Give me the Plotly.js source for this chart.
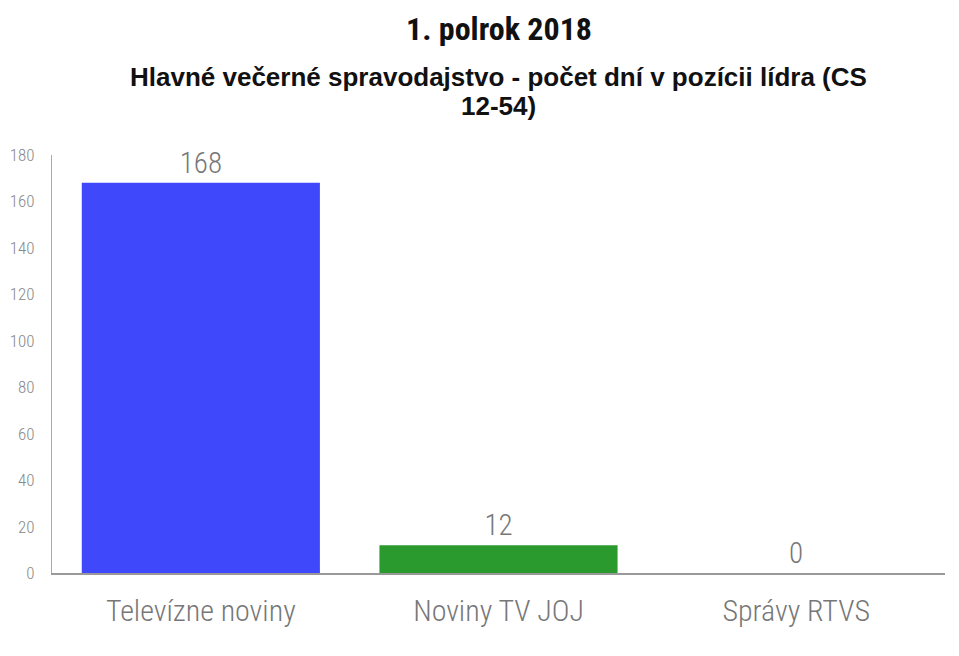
<!DOCTYPE html>
<html><head><meta charset="utf-8">
<script src="https://cdn.plot.ly/plotly-3.0.1.min.js"></script>
<style>body{margin:0;background:#fff}#c{width:959px;height:656px}</style>
</head><body><div id="c"></div>
<script>
const categories = ["Televízne noviny", "Noviny TV JOJ", "Správy RTVS"];
const values = [168, 12, 0];
const barColors = ["#4048fc", "#2a9a2e", "#888888"];
const yTicks = [0, 20, 40, 60, 80, 100, 120, 140, 160, 180];
const titleText = "1. polrok 2018";
const subtitleLines = ["Hlavné večerné spravodajstvo - počet dní v pozícii lídra (CS", "12-54)"];
const cond = "'Roboto Condensed', 'DejaVu Sans Condensed', sans-serif";
const arial = "'Liberation Sans', Arial, sans-serif";

Plotly.newPlot("c", [{
  type: "bar", x: categories, y: values,
  marker: {color: barColors},
  text: values.map(String), textposition: "outside", cliponaxis: false,
  textfont: {family: cond, size: 29, weight: 300, color: "#777777"},
  hoverinfo: "none"
}], {
  width: 959, height: 656,
  margin: {l: 52, r: 14, t: 155, b: 83},
  paper_bgcolor: "#fff", plot_bgcolor: "#fff",
  bargap: 0.2, showlegend: false,
  xaxis: {showline: true, linecolor: "#999", linewidth: 2, ticks: "", showgrid: false,
    tickfont: {family: cond, size: 30, weight: 300, color: "#777777"}, ticklabelstandoff: 10},
  yaxis: {range: [0, 180], tickvals: yTicks, showline: true, linecolor: "#aaa", linewidth: 1,
    showgrid: false, zeroline: false, ticks: "",
    tickfont: {family: cond, size: 17, weight: 300, color: "#888888"}, ticklabelstandoff: 13},
  annotations: [
    {xref: "paper", yref: "paper", x: 0.5, y: 1, yshift: 126, yanchor: "middle", showarrow: false,
      text: titleText, font: {family: cond, size: 32, weight: 700, color: "#111"}},
    {xref: "paper", yref: "paper", x: 0.5, y: 1, yshift: 78, yanchor: "middle", showarrow: false,
      text: "<b>" + subtitleLines[0] + "</b>", font: {family: arial, size: 26, color: "#111"}},
    {xref: "paper", yref: "paper", x: 0.5, y: 1, yshift: 49, yanchor: "middle", showarrow: false,
      text: "<b>" + subtitleLines[1] + "</b>", font: {family: arial, size: 26, color: "#111"}}
  ]
}, {staticPlot: true});
</script></body></html>
